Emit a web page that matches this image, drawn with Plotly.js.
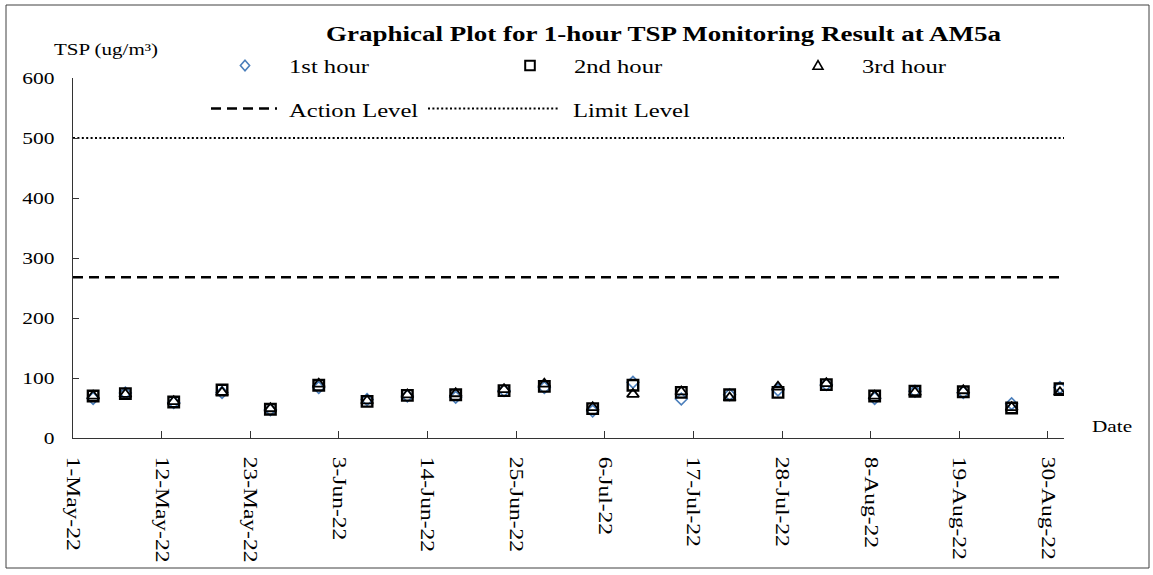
<!DOCTYPE html>
<html>
<head>
<meta charset="utf-8">
<script src="https://cdn.plot.ly/plotly-3.0.1.min.js"></script>
<style>html,body{margin:0;padding:0;background:#fff;}#chart{width:1153px;height:575px;}</style>
</head>
<body>
<div id="chart"></div>
<script>
// ---- data ----
const sampleDates = ['2022-05-03','2022-05-07','2022-05-13','2022-05-19','2022-05-25','2022-05-31',
  '2022-06-06','2022-06-11','2022-06-17','2022-06-23','2022-06-28','2022-07-04','2022-07-09',
  '2022-07-15','2022-07-21','2022-07-27','2022-08-02','2022-08-08','2022-08-13','2022-08-19',
  '2022-08-25','2022-08-31'];
const hour1 = [66,75,59,76,47,84,64,70,68,79,84,45,93,65,72,80,89,66,78,76,57,84];
const hour2 = [70,74,60,80,48,88,61,71,72,79,86,49,88,76,72,76,89,70,78,77,50,82];
const hour3 = [70,73,61,76,49,90,62,72,74,81,90,51,73,77,67,85,91,70,76,79,51,76];
const actionLevel = 268;
const limitLevel = 500;
const axisStart = '2022-05-01';
const axisEnd = '2022-09-01';
const yTicks = [0,100,200,300,400,500,600];
const seriesNames = ['1st hour','2nd hour','3rd hour'];
const levelNames = ['Action Level','Limit Level'];

// ---- layout helpers (pixel -> paper) ----
const W = 1153, H = 575, ML = 73, MR = 89, MT = 78, MB = 137;
const PW = W - ML - MR, PH = H - MT - MB;
const px = x => (x - ML) / PW;
const py = y => (H - MB - y) / PH;

const FONT = 'Liberation Serif, Times New Roman, serif';
const BLUE = '#4a7ebb';
// Excel-style date axis: points sit in the middle of their day
const mid = d => d + ' 12:00';
const xs = sampleDates.map(mid);

const traces = [
  {x: xs, y: hour1, type:'scatter', mode:'markers', name: seriesNames[0],
   marker:{symbol:'diamond-open', size:9, color:BLUE, line:{width:1.6, color:BLUE}}},
  {x: xs, y: hour2, type:'scatter', mode:'markers', name: seriesNames[1],
   marker:{symbol:'square-open', size:10.5, color:'#000', line:{width:2.4, color:'#000'}}},
  {x: xs, y: hour3, type:'scatter', mode:'markers', name: seriesNames[2],
   marker:{symbol:'triangle-up-open', size:10.5, color:'#000', line:{width:1.8, color:'#000'}}},
  {x: [axisStart, axisEnd], y: [actionLevel, actionLevel], type:'scatter', mode:'lines', name: levelNames[0],
   line:{color:'#000', width:2.5, dash:'10px,6px'}},
  {x: [axisStart, axisEnd], y: [limitLevel, limitLevel], type:'scatter', mode:'lines', name: levelNames[1],
   line:{color:'#000', width:2, dash:'2px,2.4px'}}
];

const txt = (text, x, y, size, opts) => Object.assign({
  text, xref:'paper', yref:'paper', x: px(x), y: py(y), xanchor:'left', yanchor:'middle', align:'left',
  showarrow:false, font:{family:FONT, size, color:'#000'}
}, opts || {});

const annotations = [
  txt('TSP (ug/m³)', 52, 49, 16.8),
  txt('Date', 1090, 426, 17),
  txt(seriesNames[0], 287, 66, 19.7),
  txt(seriesNames[1], 572, 66, 19.7),
  txt(seriesNames[2], 860, 66, 19.7),
  txt(levelNames[0], 287, 110, 19.7),
  txt(levelNames[1], 571, 110, 19.7)
];

const pshape = (cx, cy, path, color, width) => ({
  type:'path', xref:'paper', yref:'paper', xsizemode:'pixel', ysizemode:'pixel',
  xanchor: px(cx), yanchor: py(cy), path, line:{color, width}, fillcolor:'rgba(0,0,0,0)', layer:'above'
});

const shapes = [
  // outer frame
  {type:'rect', xref:'paper', yref:'paper', x0:px(6), x1:px(1149), y0:py(568), y1:py(5),
   line:{color:'#404040', width:1}, fillcolor:'rgba(0,0,0,0)'},
  // legend symbols
  pshape(245, 65.5, 'M0,5.3 L4.6,0 L0,-5.3 L-4.6,0 Z', BLUE, 1.6),
  pshape(530, 65.5, 'M-4.8,-4.8 L4.8,-4.8 L4.8,4.8 L-4.8,4.8 Z', '#000', 2),
  pshape(818, 65.5, 'M-5,-3.8 L5,-3.8 L0,5 Z', '#000', 1.6),
  {type:'line', xref:'paper', yref:'paper', x0:px(211), x1:px(277), y0:py(108.5), y1:py(108.5),
   line:{color:'#000', width:2.5, dash:'10px,6px'}},
  {type:'line', xref:'paper', yref:'paper', x0:px(428), x1:px(558), y0:py(108.5), y1:py(108.5),
   line:{color:'#000', width:2, dash:'2px,2.4px'}}
];

const layout = {
  width: W, height: H,
  margin:{l:ML, r:MR, t:MT, b:MB, pad:0},
  paper_bgcolor:'#fff', plot_bgcolor:'#fff',
  showlegend:false,
  title:{text:'Graphical Plot for 1-hour TSP Monitoring Result at AM5a',
    font:{family:FONT, size:21.6, weight:'bold', color:'#000'},
    xref:'paper', x: px(663.5), xanchor:'center', yref:'container', y: 1 - 33/H, yanchor:'middle'},
  xaxis:{type:'date', range:[axisStart, axisEnd], tick0: axisStart, dtick: 11*86400000,
    tickformat:'%-d-%b-%y', tickangle:90, ticks:'inside', ticklen:7, tickcolor:'#333', tickwidth:1,
    showline:true, linecolor:'#333', linewidth:1, showgrid:false, zeroline:false,
    tickfont:{family:FONT, size:18.8, color:'#000'}, ticklabelstandoff:14, fixedrange:true},
  yaxis:{range:[0,600], tickvals:yTicks, ticktext:yTicks.map(String), ticks:'inside', ticklen:6,
    tickcolor:'#333', tickwidth:1, showline:true, linecolor:'#333', linewidth:1, showgrid:false,
    zeroline:false, tickfont:{family:FONT, size:17.2, color:'#000'}, ticklabelstandoff:14, fixedrange:true},
  annotations, shapes
};

Plotly.newPlot('chart', traces, layout, {staticPlot:true, displayModeBar:false}).then(gd => {
  // the reference's text is horizontally stretched; widen glyphs along the baseline
  gd.querySelectorAll('text').forEach(t => {
    const L = t.getComputedTextLength();
    if (L > 0) {
      t.setAttribute('textLength', (L * 1.25).toFixed(2));
      t.setAttribute('lengthAdjust', 'spacingAndGlyphs');
    }
  });
});
</script>
</body>
</html>
